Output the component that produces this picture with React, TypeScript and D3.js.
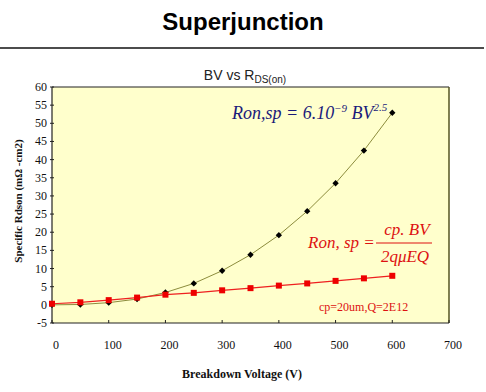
import React from 'react';
import * as d3 from 'd3';

const W = 486;
const H = 392;
const M = { left: 52, right: 449, top: 87, bottom: 323 };

const VOLTAGE = [0, 50, 100, 150, 200, 250, 300, 350, 400, 450, 500, 550, 600];
const RON_SI = [0, 0.1, 0.6, 1.6, 3.4, 5.9, 9.4, 13.8, 19.2, 25.8, 33.5, 42.5, 52.9];
const RON_SJ = [0.3, 0.7, 1.3, 2.0, 2.8, 3.3, 4.0, 4.6, 5.3, 5.9, 6.6, 7.3, 8.0];
const X_TICKS = [0, 100, 200, 300, 400, 500, 600, 700];
const Y_TICKS = [-5, 0, 5, 10, 15, 20, 25, 30, 35, 40, 45, 50, 55, 60];

const serif = '"Liberation Serif", "DejaVu Serif", serif';
const sans = '"Liberation Sans", Arial, sans-serif';

export default function App() {
    const x = d3.scaleLinear().domain([0, 700]).range([M.left, M.right]);
    const y = d3.scaleLinear().domain([-5, 60]).range([M.bottom, M.top]);

    const line = d3.line<number>()
        .x((_, i) => x(VOLTAGE[i]))
        .y(d => y(d));

    // square turned on its corner, like the excel marker
    const diamond = d3.symbol().type(d3.symbolSquare).size(20)();

    return (
        <div style={{ position: 'absolute', left: 0, top: 0 }}>
            <svg width={W} height={H} style={{ display: 'block', background: '#fff' }}>
                <text x={243} y={30} textAnchor="middle" fontFamily={sans} fontWeight="bold" fontSize={24} fill="#000">Superjunction</text>
                <line x1={0} x2={484} y1={48} y2={48} stroke="#111" strokeWidth={1.5} />

                <text x={245} y={80} textAnchor="middle" fontFamily={sans} fontSize={14} fill="#222">
                    BV vs R<tspan fontSize={10} dy={3}>DS(on)</tspan>
                </text>

                <rect x={M.left} y={M.top} width={M.right - M.left} height={M.bottom - M.top} fill="#ffffcc" />
                <line x1={M.left} x2={M.right} y1={M.top} y2={M.top} stroke="#222" strokeWidth={1.2} />
                <line x1={M.right} x2={M.right} y1={M.top} y2={M.bottom} stroke="#555522" strokeWidth={1.5} />
                <line x1={M.left} x2={M.right} y1={M.bottom} y2={M.bottom} stroke="#222" strokeWidth={1.2} />
                <line x1={M.left} x2={M.left} y1={M.top} y2={M.bottom} stroke="#222" strokeWidth={1.2} />

                {Y_TICKS.map(t => (
                    <g key={'y' + t}>
                        <line x1={M.left - 2} x2={M.left + 2} y1={y(t)} y2={y(t)} stroke="#222" />
                        <text x={M.left - 5} y={y(t) + 4} textAnchor="end" fontFamily={serif} fontSize={12} fill="#111">{t}</text>
                    </g>
                ))}
                {X_TICKS.map(t => (
                    <g key={'x' + t}>
                        <line x1={x(t)} x2={x(t)} y1={M.bottom} y2={M.bottom - 3} stroke="#222" />
                        <text x={x(t) + 4} y={349} textAnchor="middle" fontFamily={serif} fontSize={12} fill="#111">{t}</text>
                    </g>
                ))}

                <text x={242} y={378} textAnchor="middle" fontFamily={serif} fontWeight="bold" fontSize={12} fill="#111">Breakdown Voltage (V)</text>
                <text transform={`translate(22,${(M.top + M.bottom) / 2 - 4}) rotate(-90)`} textAnchor="middle" fontFamily={serif} fontWeight="bold" fontSize={11} fill="#111">
                    Specific Rdson (mΩ -cm2)
                </text>

                <path d={line(RON_SI) || ''} fill="none" stroke="#8c8c3c" strokeWidth={1} />
                {RON_SI.map((d, i) => (
                    <path key={'d' + i} d={diamond || ''} transform={`translate(${x(VOLTAGE[i])},${y(d)}) rotate(45)`} fill="#000" />
                ))}

                <path d={line(RON_SJ) || ''} fill="none" stroke="#ee2020" strokeWidth={1.2} />
                {RON_SJ.map((d, i) => (
                    <rect key={'s' + i} x={x(VOLTAGE[i]) - 3} y={y(d) - 3} width={6} height={6} fill="#ee0000" />
                ))}

                <text x={232} y={119} fontFamily={serif} fontStyle="italic" fontSize={18} fill="#1a1a7a">
                    Ron,sp = 6.10<tspan fontSize={11} dy={-7}>−9</tspan><tspan dy={7}> BV</tspan><tspan fontSize={11} dy={-8}>2.5</tspan>
                </text>

                <text x={308} y={248} fontFamily={serif} fontStyle="italic" fontSize={17} fill="#dd1111">Ron, sp =</text>
                <text x={407} y={235} textAnchor="middle" fontFamily={serif} fontStyle="italic" fontSize={17} fill="#dd1111">cp. BV</text>
                <line x1={376} x2={432} y1={243} y2={243} stroke="#dd1111" strokeWidth={1} />
                <text x={405} y={262} textAnchor="middle" fontFamily={serif} fontStyle="italic" fontSize={17} fill="#dd1111">2qμEQ</text>

                <text x={319} y={311} fontFamily={serif} fontSize={12} fill="#dd1111">cp=20um,Q=2E12</text>
            </svg>
        </div>
    );
}
